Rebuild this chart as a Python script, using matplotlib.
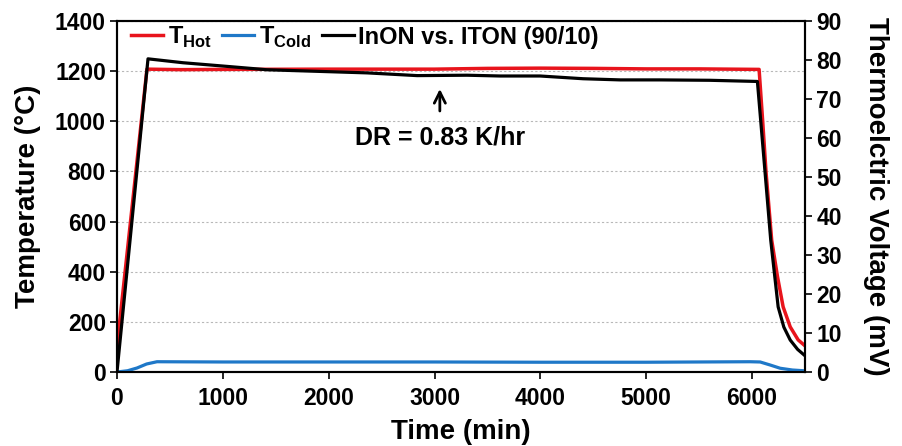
import numpy as np
import matplotlib.pyplot as plt

plt.rcParams['font.family'] = ['Liberation Sans', 'DejaVu Sans']
plt.rcParams['font.weight'] = 'bold'
plt.rcParams['mathtext.fontset'] = 'custom'
plt.rcParams['mathtext.rm'] = 'Liberation Sans:bold'
plt.rcParams['mathtext.bf'] = 'Liberation Sans:bold'

# hot side temperature (degC)
t_hot = [0, 283, 600, 1000, 2000, 3000, 3500, 4000, 4500, 5000, 5500, 6066,
         6100, 6132, 6185, 6240, 6293, 6360, 6435, 6490]
T_hot = [100, 1208, 1206, 1207, 1208, 1208, 1211, 1212, 1211, 1209, 1209, 1207,
         1000, 794, 526, 380, 260, 180, 128, 108]

# cold side temperature (degC)
t_cold = [0, 100, 189, 280, 378, 1000, 2000, 3000, 4000, 5000, 5981, 6076,
          6170, 6265, 6380, 6490]
T_cold = [0, 5, 16, 32, 41, 40, 40, 40, 39, 39, 41, 40, 28, 15, 8, 5]

# thermoelectric voltage (mV)
t_emf = [0, 293, 624, 1068, 1417, 2362, 2835, 3307, 3619, 3997, 4403,
         4753, 5130, 5600, 6050, 6123, 6176, 6246, 6300, 6360, 6430, 6490]
V_emf = [0, 80.3, 79.3, 78.3, 77.5, 76.7, 76.0, 76.1, 75.9, 75.9, 75.2,
         74.9, 74.9, 74.8, 74.5, 51.0, 33.8, 16.7, 11.5, 8.2, 5.8, 4.4]

fig = plt.figure(figsize=(9.02, 4.46), dpi=100)
ax = fig.add_axes([0.1297, 0.1659, 0.7628, 0.787])
ax2 = ax.twinx()

ax.plot(t_hot, T_hot, color='#e8141c', lw=2.5, label='T$_{\\mathrm{Hot}}$', zorder=3)
ax.plot(t_cold, T_cold, color='#1f78c8', lw=2.3, label='T$_{\\mathrm{Cold}}$', zorder=3)
ax2.plot(t_emf, V_emf, color='black', lw=2.3, label='InON vs. ITON (90/10)', zorder=4)

ax.set_xlim(0, 6500)
ax.set_ylim(0, 1400)
ax2.set_ylim(0, 90)
ax.set_xticks(range(0, 7000, 1000))
ax.set_yticks(range(0, 1600, 200))
ax2.set_yticks(range(0, 100, 10))

ax.grid(axis='y', ls=(0, (2, 2)), color='#b8b8b8', lw=0.8)
ax.set_axisbelow(True)

for a in (ax, ax2):
    for s in a.spines.values():
        s.set_linewidth(1.5)
    a.tick_params(direction='out', length=5, width=1.2, labelsize=16.5, pad=3)
ax.tick_params(axis='x', pad=6)

ax.set_xlabel('Time (min)', fontsize=20, fontweight='bold', labelpad=6)
ax.set_ylabel('Temperature (\u00b0C)', fontsize=20, fontweight='bold', labelpad=10)
ax2.set_ylabel('Thermoelctric Voltage (mV)', fontsize=20, fontweight='bold',
               rotation=-90, labelpad=34)

ax.annotate('', xy=(3050, 1140), xytext=(3050, 1030),
            arrowprops=dict(arrowstyle='->', lw=2, color='black', mutation_scale=20))
ax.text(3050, 935, 'DR = 0.83 K/hr', ha='center', va='center', fontsize=18,
        fontweight='bold')

h1, l1 = ax.get_legend_handles_labels()
h2, l2 = ax2.get_legend_handles_labels()
leg = ax2.legend(h1 + h2, l1 + l2, loc='upper left', ncol=3, frameon=False,
                 fontsize=17, handlelength=1.35, handletextpad=0.2,
                 columnspacing=0.45, borderaxespad=0.2, bbox_to_anchor=(0.0, 1.03))

fig.savefig('out.png', dpi=100)
